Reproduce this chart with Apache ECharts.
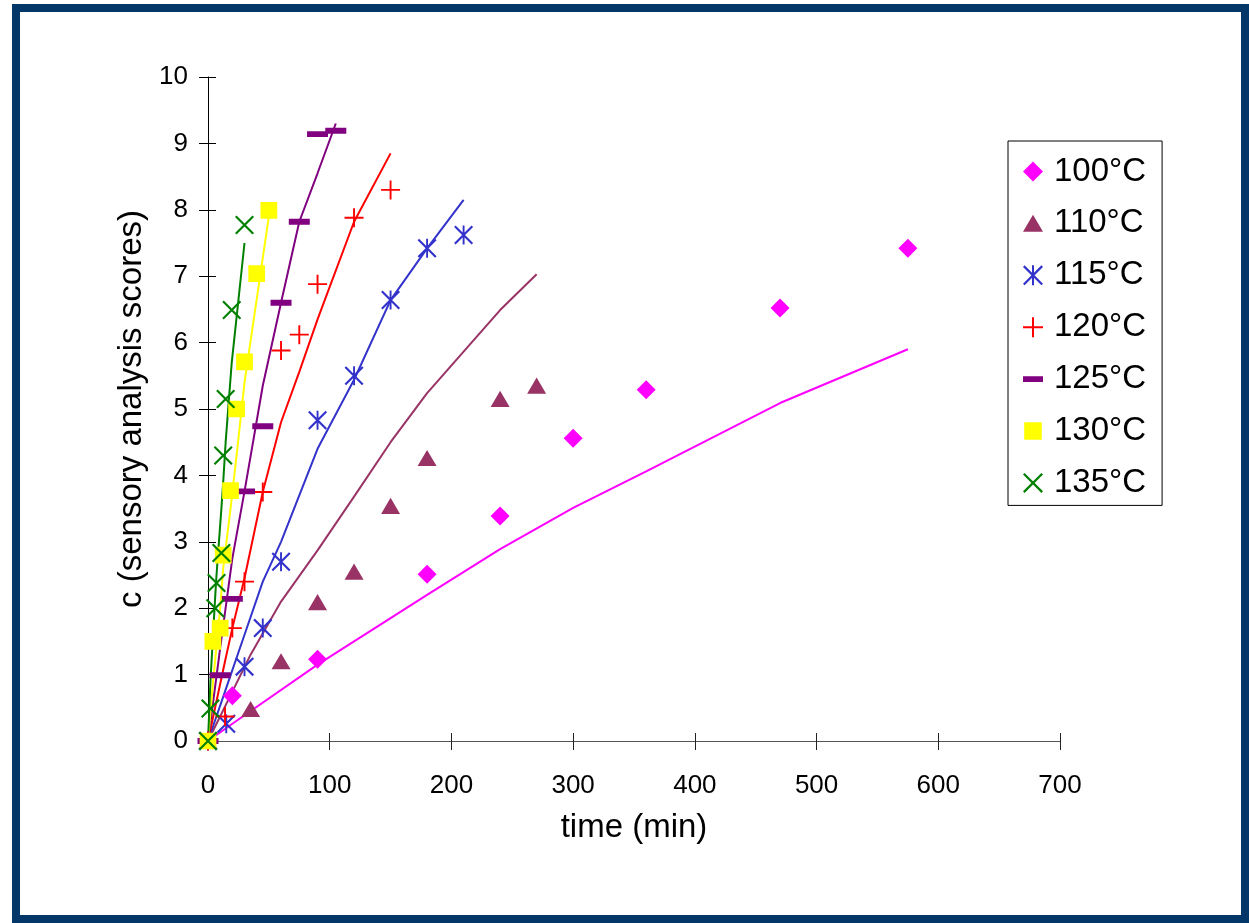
<!DOCTYPE html>
<html>
<head>
<meta charset="utf-8">
<script src="https://cdn.jsdelivr.net/npm/echarts@6/dist/echarts.min.js"></script>
<style>
  html, body { margin: 0; padding: 0; background: #fff; }
  #chart { width: 1249px; height: 923px; }
</style>
</head>
<body>
<div id="chart"></div>
<script>
// ---- data ----
const seriesNames = ['100°C', '110°C', '115°C', '120°C', '125°C', '130°C', '135°C'];

const t100 = [0, 20, 90, 180, 240, 300, 360, 470, 575];
const c100 = [0, 0.68, 1.23, 2.51, 3.39, 4.56, 5.29, 6.52, 7.42];
const m100 = [0, 0.26, 1.15, 2.2, 2.89, 3.51, 4.06, 5.09, 5.9];

const t110 = [0, 35, 60, 90, 120, 150, 180, 240, 270];
const c110 = [0, 0.48, 1.2, 2.09, 2.55, 3.54, 4.26, 5.15, 5.35];
const m110 = [0, 1.3, 2.1, 2.87, 3.68, 4.5, 5.24, 6.49, 7.03];

const t115 = [0, 15, 30, 45, 60, 90, 120, 150, 180, 210];
const c115 = [0, 0.26, 1.12, 1.7, 2.7, 4.83, 5.5, 6.64, 7.42, 7.62];
const m115 = [0, 0.8, 1.6, 2.4, 3.0, 4.4, 5.44, 6.64, 7.42, 8.15];

const t120 = [0, 14, 20, 30, 45, 60, 75, 90, 120, 150];
const c120 = [0, 0.37, 1.7, 2.4, 3.75, 5.88, 6.12, 6.88, 7.88, 8.3];
const m120 = [0, 1.2, 1.7, 2.45, 3.75, 4.8, 5.56, 6.35, 7.82, 8.85];

const t125 = [0, 10, 20, 30, 45, 60, 75, 90, 105];
const c125 = [0, 0.99, 2.14, 3.76, 4.74, 6.6, 7.82, 9.14, 9.19];
const m125 = [0, 1.4, 2.75, 3.76, 5.35, 6.6, 7.82, 8.55, 9.3];

const t130 = [0, 4, 10, 12.5, 18.5, 23.5, 30, 40, 50];
const c130 = [0, 1.5, 1.7, 2.8, 3.77, 5.0, 5.71, 7.04, 7.99];
const m130 = [0, 0.86, 2.0, 2.6, 3.5, 4.3, 5.4, 6.65, 7.9];

const t135 = [0, 2, 6, 7, 11, 12.5, 14.5, 19.5, 30];
const c135 = [0, 0.49, 2.0, 2.38, 2.83, 4.3, 5.15, 6.49, 7.77];
const m135 = [0, 0.9, 2.2, 2.5, 3.5, 3.9, 4.5, 5.7, 7.5];

const xTicks = [0, 100, 200, 300, 400, 500, 600, 700];
const yTicks = [0, 1, 2, 3, 4, 5, 6, 7, 8, 9, 10];

// ---- styling ----
const FONT = 'Liberation Sans';
const colors = ['#FF00FF', '#993366', '#3333CC', '#FF0000', '#800080', '#FFFF00', '#008000'];
// every marker path sits in a 100x100 box (corner points fix the box)
const BOX = ' M0,0L0,0Z M100,100L100,100Z';
const symbols = [
  'path://M50,0L100,50L50,100L0,50Z' + BOX,
  'path://M50,7L100,92L0,92Z' + BOX,
  'path://M45,0L55,0L55,100L45,100Z M0,8L8,0L100,92L92,100Z M92,0L100,8L8,100L0,92Z' + BOX,
  'path://M45,0L55,0L55,100L45,100Z M0,45L100,45L100,55L0,55Z' + BOX,
  'path://M0,36L100,36L100,64L0,64Z' + BOX,
  'path://M6,6L94,6L94,94L6,94Z' + BOX,
  'path://M0,8L8,0L100,92L92,100Z M92,0L100,8L8,100L0,92Z' + BOX
];
const symbolSizes = [19, 19, 19, 19, 21, 19, 19];

const times = [t100, t110, t115, t120, t125, t130, t135];
const obs = [c100, c110, c115, c120, c125, c130, c135];
const model = [m100, m110, m115, m120, m125, m130, m135];

const zip = (a, b) => a.map((v, i) => [v, b[i]]);

const lineSeries = seriesNames.map((n, i) => ({
  name: n + ' model',
  type: 'line',
  data: zip(times[i], model[i]),
  showSymbol: false,
  symbol: 'none',
  lineStyle: { color: colors[i], width: 2 },
  itemStyle: { color: colors[i] },
  z: 2,
  silent: true,
  animation: false
}));

const scatterSeries = seriesNames.map((n, i) => ({
  name: n,
  type: 'scatter',
  data: zip(times[i], obs[i]),
  symbol: symbols[i],
  symbolSize: symbolSizes[i],
  itemStyle: { color: colors[i], opacity: 1 },
  z: 3,
  animation: false
}));

const chart = echarts.init(document.getElementById('chart'), null, { renderer: 'canvas' });

chart.setOption({
  backgroundColor: '#ffffff',
  animation: false,
  textStyle: { fontFamily: FONT },
  graphic: [{
    type: 'rect',
    shape: { x: 16, y: 8, width: 1229, height: 911 },
    style: { fill: 'none', stroke: '#043769', lineWidth: 8 },
    z: 0, silent: true
  }],
  grid: { left: 208, right: 189, top: 77, bottom: 182, containLabel: false },
  legend: {
    data: seriesNames,
    orient: 'vertical',
    left: 1008,
    top: 141,
    padding: [14, 16, 6, 15],
    itemWidth: 32,
    itemHeight: 20,
    itemGap: 18.9,
    borderColor: '#000',
    borderWidth: 1,
    backgroundColor: '#fff',
    textStyle: { fontFamily: FONT, fontSize: 33, color: '#000' }
  },
  xAxis: [{
    type: 'value',
    min: xTicks[0],
    max: xTicks[xTicks.length - 1],
    interval: xTicks[1] - xTicks[0],
    position: 'bottom',
    name: 'time (min)',
    nameLocation: 'middle',
    nameGap: 70,
    nameTextStyle: { fontFamily: FONT, fontSize: 33, color: '#000' },
    axisLine: { show: true, lineStyle: { color: '#555', width: 1 } },
    axisTick: { show: true, length: 9, lineStyle: { color: '#222' } },
    axisLabel: { margin: 32, fontFamily: FONT, fontSize: 26, color: '#000' },
    splitLine: { show: false }
  }, {
    type: 'value',
    min: xTicks[0],
    max: xTicks[xTicks.length - 1],
    interval: xTicks[1] - xTicks[0],
    position: 'bottom',
    axisLine: { show: false },
    axisTick: { show: true, inside: true, length: 8, lineStyle: { color: '#222' } },
    axisLabel: { show: false },
    splitLine: { show: false }
  }],
  yAxis: [{
    type: 'value',
    min: yTicks[0],
    max: yTicks[yTicks.length - 1],
    interval: yTicks[1] - yTicks[0],
    position: 'left',
    name: 'c (sensory analysis scores)',
    nameLocation: 'middle',
    nameGap: 60,
    nameTextStyle: { fontFamily: FONT, fontSize: 33, color: '#000' },
    axisLine: { show: true, lineStyle: { color: '#000', width: 1 } },
    axisTick: { show: true, length: 9, lineStyle: { color: '#000' } },
    axisLabel: { margin: 20, fontFamily: FONT, fontSize: 26, color: '#000' },
    splitLine: { show: false }
  }, {
    type: 'value',
    min: yTicks[0],
    max: yTicks[yTicks.length - 1],
    interval: yTicks[1] - yTicks[0],
    position: 'left',
    axisLine: { show: false },
    axisTick: { show: true, inside: true, length: 8, lineStyle: { color: '#000' } },
    axisLabel: { show: false },
    splitLine: { show: false }
  }],
  series: lineSeries.concat(scatterSeries)
});
</script>
</body>
</html>
